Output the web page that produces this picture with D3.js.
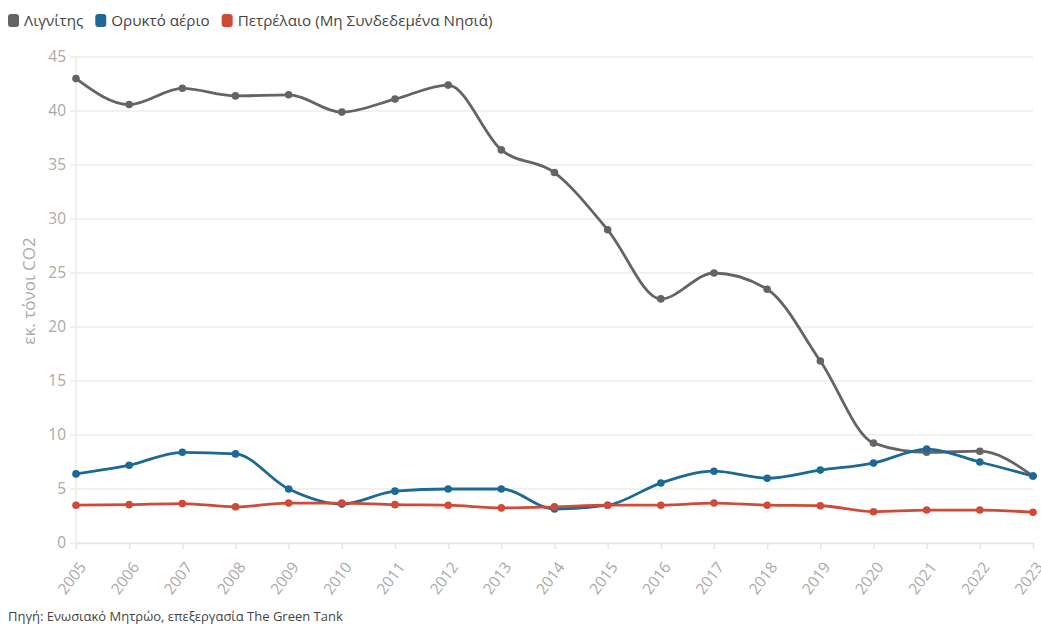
<!DOCTYPE html>
<html lang="el">
<head>
<meta charset="utf-8">
<title>Εκπομπές CO2</title>
<script src="https://d3js.org/d3.v7.min.js"></script>
<style>
body { margin: 0; background: #fff; font-family: "Source Sans Pro", "Open Sans", "Noto Sans", sans-serif; }
svg text { font-family: "Source Sans Pro", "Open Sans", "Noto Sans", sans-serif; }
</style>
</head>
<body>
<script>
// years and series (million tonnes CO2)
const years = [2005,2006,2007,2008,2009,2010,2011,2012,2013,2014,2015,2016,2017,2018,2019,2020,2021,2022,2023];
const lignite = [43.0,40.6,42.1,41.4,41.5,39.9,41.1,42.4,36.4,34.3,29.0,22.6,25.0,23.5,16.85,9.25,8.4,8.5,6.2];
const gas     = [6.4,7.2,8.4,8.25,5.0,3.6,4.8,5.0,5.0,3.15,3.5,5.55,6.65,6.0,6.75,7.4,8.7,7.5,6.2];
const oil     = [3.5,3.55,3.65,3.35,3.7,3.7,3.55,3.5,3.25,3.35,3.5,3.5,3.7,3.5,3.45,2.9,3.05,3.05,2.85];
const seriesNames = ["Λιγνίτης", "Ορυκτό αέριο", "Πετρέλαιο (Μη Συνδεδεμένα Νησιά)"];
const seriesColors = ["#646464", "#1d6996", "#cf4b38"];
const yTicks = [0,5,10,15,20,25,30,35,40,45];

const w = 1041, h = 624;
const margin = {top: 57, right: 8, bottom: 81, left: 76};

const svg = d3.select("body").append("svg")
  .attr("width", w)
  .attr("height", h);

const x = d3.scaleLinear()
  .domain([2005, 2023])
  .range([margin.left, w - margin.right]);

const y = d3.scaleLinear()
  .domain([0, 45])
  .range([h - margin.bottom, margin.top]);

// grid
svg.append("g")
  .selectAll("line")
  .data(yTicks)
  .enter().append("line")
  .attr("x1", margin.left - 6)
  .attr("x2", w - margin.right)
  .attr("y1", d => y(d))
  .attr("y2", d => y(d))
  .attr("stroke", "#ececec")
  .attr("stroke-width", 1.5);

// left axis line
svg.append("line")
  .attr("x1", margin.left).attr("x2", margin.left)
  .attr("y1", y(45)).attr("y2", y(0) + 6)
  .attr("stroke", "#ececec").attr("stroke-width", 1.5);

// y labels
svg.append("g")
  .selectAll("text")
  .data(yTicks)
  .enter().append("text")
  .attr("x", margin.left - 10)
  .attr("y", d => y(d))
  .attr("dy", "0.35em")
  .attr("text-anchor", "end")
  .attr("fill", "#aaaaaa")
  .style("font-size", "15.5px")
  .text(d => d);

// x axis
const xAxis = svg.append("g")
  .attr("transform", "translate(0," + y(0) + ")")
  .call(d3.axisBottom(x).tickValues(years).tickFormat(d3.format("d")).tickSize(6).tickSizeOuter(0));
xAxis.select(".domain").attr("stroke", "#e6e6e6").attr("stroke-width", 1.5);
xAxis.selectAll(".tick line").attr("stroke", "#e6e6e6").attr("stroke-width", 1.5);
xAxis.selectAll(".tick text")
  .attr("fill", "#aaaaaa")
  .style("font-size", "15.5px")
  .attr("text-anchor", "end")
  .attr("x", 0)
  .attr("y", 0)
  .attr("dy", "0.35em")
  .attr("transform", "translate(6,21) rotate(-53)");

// y title
svg.append("text")
  .attr("transform", "translate(35,291) rotate(-90)")
  .attr("text-anchor", "middle")
  .attr("fill", "#aaaaaa")
  .style("font-size", "17px")
  .text("εκ. τόνοι CO2");

const line = d3.line()
  .x((d, i) => x(years[i]))
  .y(d => y(d))
  .curve(d3.curveMonotoneX);

const allSeries = [lignite, gas, oil];

allSeries.forEach(function(s, k) {
  const g = svg.append("g");
  g.append("path")
    .datum(s)
    .attr("d", line)
    .attr("fill", "none")
    .attr("stroke", seriesColors[k])
    .attr("stroke-width", 2.8);
  g.selectAll("circle")
    .data(s)
    .enter().append("circle")
    .attr("cx", (d, i) => x(years[i]))
    .attr("cy", d => y(d))
    .attr("r", 3.8)
    .attr("fill", seriesColors[k]);
});

// legend
const legend = svg.append("g").attr("transform", "translate(8,14)");
let lx = 0;
seriesNames.forEach(function(name, k) {
  const item = legend.append("g").attr("transform", "translate(" + lx + ",0)");
  item.append("rect")
    .attr("width", 11).attr("height", 13)
    .attr("rx", 3)
    .attr("fill", seriesColors[k]);
  const t = item.append("text")
    .attr("x", 16).attr("y", 7)
    .attr("dy", "0.35em")
    .attr("fill", "#444")
    .style("font-size", "15.2px")
    .text(name);
  lx += 16 + t.node().getComputedTextLength() + 12;
});

// source
svg.append("text")
  .attr("x", 8)
  .attr("y", 621)
  .attr("fill", "#444")
  .style("font-size", "13px")
  .text("Πηγή: Ενωσιακό Μητρώο, επεξεργασία The Green Tank");
</script>
</body>
</html>
